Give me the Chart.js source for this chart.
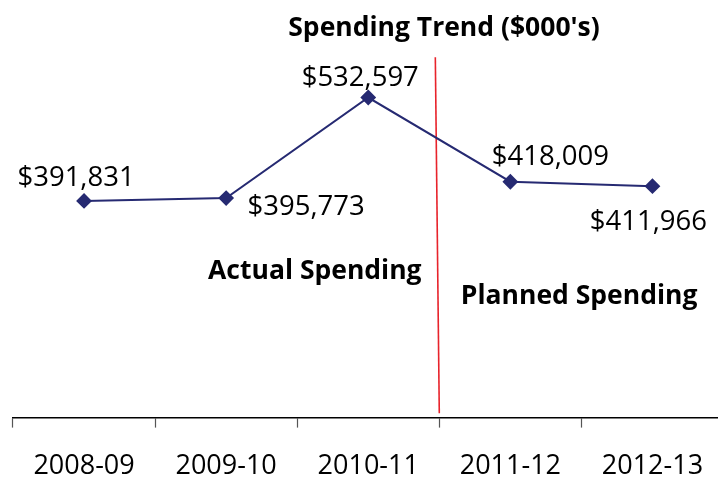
<!DOCTYPE html>
<html>
<head>
<meta charset="utf-8">
<script src="https://cdn.jsdelivr.net/npm/chart.js@4.4.1/dist/chart.umd.min.js"></script>
<style>
    html, body { margin: 0; padding: 0; background: #fff; overflow: hidden; }
    #wrap { width: 732px; height: 506px; }
</style>
</head>
<body>
<div id="wrap"><canvas id="trend"></canvas></div>
<script>
const years = ['2008-09', '2009-10', '2010-11', '2011-12', '2012-13'];
const spending = [391831, 395773, 532597, 418009, 411966];
// red divider between actual and planned, in (category index, value) units
const dividerX = [2.472, 2.5];
const dividerY = [587400, 102800];

// where each value label sits relative to its point (px: centre x, baseline y)
const labelShift = [[-8, -15], [80, 17], [-8, -12], [40, -17], [-4, 44]];

const navy = '#262a72';

const money = v => '$' + v.toLocaleString('en-US');

const textPlugin = {
    id: 'texts',
    afterDatasetsDraw(chart) {
        const ctx = chart.ctx;
        const pts = chart.getDatasetMeta(0).data;
        ctx.save();
        ctx.fillStyle = '#000';
        ctx.textAlign = 'center';
        ctx.textBaseline = 'alphabetic';
        ctx.font = '27.5px "Open Sans"';
        pts.forEach((p, i) => {
            ctx.fillText(money(spending[i]), p.x + labelShift[i][0], p.y + labelShift[i][1]);
        });

        const x2 = chart.scales.x2;
        const y = chart.scales.y;
        ctx.font = 'bold 26.5px "Open Sans"';
        ctx.fillText('Spending Trend ($000\'s)', 444, 36);
        // notes placed with the scales
        ctx.fillText('Actual Spending', x2.getPixelForValue(1.624), y.getPixelForValue(286000));
        ctx.fillText('Planned Spending', x2.getPixelForValue(3.484), y.getPixelForValue(251000));
        ctx.restore();
    }
};

new Chart(document.getElementById('trend'), {
    type: 'line',
    data: {
        labels: years,
        datasets: [{
            data: spending,
            xAxisID: 'x',
            borderColor: navy,
            backgroundColor: navy,
            borderWidth: 2,
            pointStyle: 'rectRot',
            pointRadius: 6.5,
            pointHoverRadius: 6.5,
            tension: 0
        }, {
            data: dividerX.map((v, i) => ({ x: v, y: dividerY[i] })),
            xAxisID: 'x2',
            borderColor: '#e8232b',
            borderWidth: 1.6,
            pointRadius: 0,
            pointHoverRadius: 0
        }]
    },
    options: {
        responsive: true,
        maintainAspectRatio: false,
        animation: false,
        layout: { padding: { left: 13, right: 4, top: 48, bottom: 0 } },
        plugins: {
            legend: { display: false },
            tooltip: { enabled: false }
        },
        scales: {
            x: {
                type: 'category',
                offset: true,
                border: { display: true, color: '#000', width: 1.5 },
                grid: {
                    offset: true,
                    drawOnChartArea: false,
                    drawTicks: true,
                    tickLength: 10,
                    tickColor: '#555',
                    tickWidth: 1.2
                },
                ticks: {
                    color: '#000',
                    padding: 23,
                    font: { family: 'Open Sans', size: 27 }
                }
            },
            x2: {
                type: 'linear',
                display: false,
                min: -0.5,
                max: 4.5
            },
            y: {
                display: false,
                min: 97000,
                max: 600000
            }
        }
    },
    plugins: [textPlugin]
});
</script>
</body>
</html>
